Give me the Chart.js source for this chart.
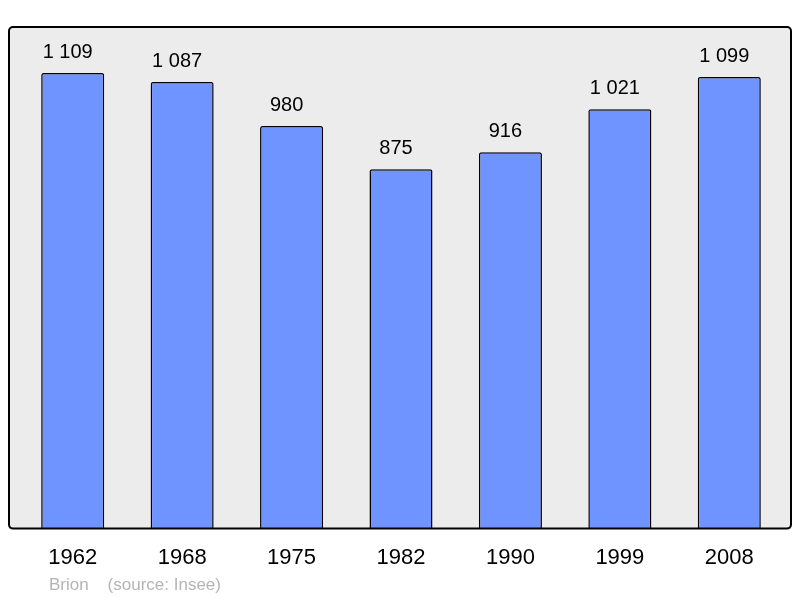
<!DOCTYPE html>
<html>
<head>
<meta charset="utf-8">
<script src="https://cdn.jsdelivr.net/npm/chart.js@4/dist/chart.umd.min.js"></script>
<style>
  body { margin: 0; background: #fff; }
</style>
</head>
<body>
<canvas id="popChart" width="800" height="598"></canvas>
<script>
// census years and population (Brion, source: Insee)
const years = ["1962", "1968", "1975", "1982", "1990", "1999", "2008"];
const population = [1109, 1087, 980, 875, 916, 1021, 1099];
const footerText = "Brion    (source: Insee)";

// french style thousands: "1 109"
const fmt = (n) => String(n).replace(/\B(?=(\d{3})+(?!\d))/g, " ");

const FRAME_LEFT = 9;
const FRAME_RIGHT = 791;

/**
 *  ! frame + value labels + footer
 * **/
function framePath(ctx, area) {
  ctx.beginPath();
  ctx.roundRect(FRAME_LEFT, area.top, FRAME_RIGHT - FRAME_LEFT, area.bottom - area.top, 4);
}

const framePlugin = {
  id: "frame",
  beforeDatasetsDraw(chart) {
    const { ctx, chartArea } = chart;
    ctx.save();
    framePath(ctx, chartArea);
    ctx.fillStyle = "#ececec";
    ctx.fill();
    ctx.restore();
  },
  afterDatasetsDraw(chart) {
    const { ctx, chartArea } = chart;
    ctx.save();
    framePath(ctx, chartArea);
    ctx.lineWidth = 2;
    ctx.strokeStyle = "#000";
    ctx.stroke();

    // value labels above bars (sit a little left of centre, like the original)
    ctx.font = "20px 'Liberation Sans', Arial, sans-serif";
    ctx.fillStyle = "#000";
    ctx.textAlign = "center";
    ctx.textBaseline = "alphabetic";
    chart.getDatasetMeta(0).data.forEach((bar, i) => {
      ctx.fillText(fmt(population[i]), bar.x - 5, bar.y - 15);
    });

    // footer
    ctx.font = "17px 'Liberation Sans', Arial, sans-serif";
    ctx.fillStyle = "#b4b4b4";
    ctx.textAlign = "left";
    ctx.fillText(footerText, 49, 590);
    ctx.restore();
  },
};

const ctx = document.getElementById("popChart");

new Chart(ctx, {
  type: "bar",
  data: {
    labels: years,
    datasets: [
      {
        label: "population",
        data: population,
        backgroundColor: "#7094ff",
        borderColor: "#000",
        borderWidth: 1.5,
        borderRadius: 2,
        borderSkipped: "bottom",
        barPercentage: 0.576,
        categoryPercentage: 1,
      },
    ],
  },
  options: {
    responsive: false,
    animation: false,
    layout: {
      padding: { left: 18, right: 16, top: 27, bottom: 19 },
    },
    scales: {
      y: {
        display: false,
        min: 0,
        max: 1221,
      },
      x: {
        grid: { display: false },
        border: { display: false },
        ticks: {
          color: "#000",
          padding: 8,
          font: { size: 22, family: "'Liberation Sans', Arial, sans-serif" },
        },
      },
    },
    plugins: {
      legend: { display: false },
      tooltip: { enabled: false },
    },
  },
  plugins: [framePlugin],
});
</script>
</body>
</html>
